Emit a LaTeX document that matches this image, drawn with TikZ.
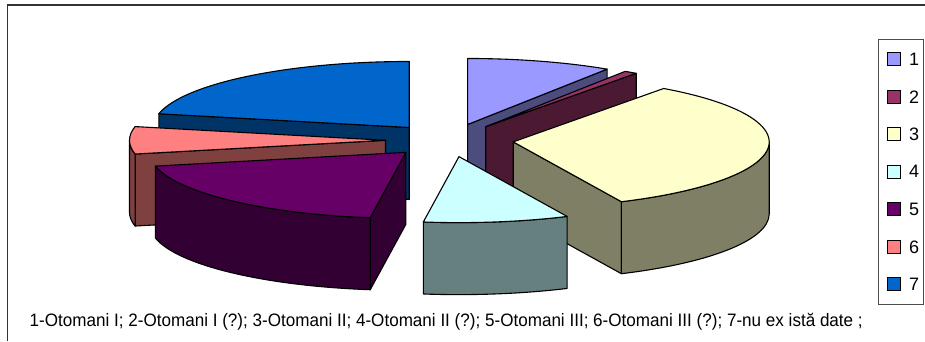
\documentclass[tikz,border=0pt]{standalone}
\usepackage{fontspec}
\setmainfont{Liberation Sans}
\usepackage{graphicx}
\usepackage{tikz}
\usetikzlibrary{calc,positioning}
\definecolor{pie1}{HTML}{9999FF}
\definecolor{pie2}{HTML}{993366}
\definecolor{pie3}{HTML}{FFFFCC}
\definecolor{pie4}{HTML}{CCFFFF}
\definecolor{pie5}{HTML}{660066}
\definecolor{pie6}{HTML}{FF8080}
\definecolor{pie7}{HTML}{0066CC}
\definecolor{side1}{HTML}{4C4C7F}
\definecolor{side2}{HTML}{4C1933}
\definecolor{side3}{HTML}{7F7F66}
\definecolor{side4}{HTML}{667F7F}
\definecolor{side5}{HTML}{330033}
\definecolor{side6}{HTML}{7F4040}
\definecolor{side7}{HTML}{003366}

\begin{document}
\begin{tikzpicture}[x=1pt, y=-1pt,
  piece/.style={draw=black, line width=1.1pt, line join=round},
  keybox/.style={draw=black, line width=1pt, minimum size=13pt, inner sep=0pt},
  keytext/.style={font=\fontsize{18}{20}\selectfont, inner sep=0pt}]
\useasboundingbox (0,0) rectangle (925,341);
\newcommand{\pcx}{449.5}
\newcommand{\pcy}{140.3}
\newcommand{\rx}{256}
\newcommand{\ry}{66}
\newcommand{\hgt}{72}
\newcommand{\expl}{0.25}
%% chart area
\draw[black!80, line width=1.3pt] (925,5) -- (7.5,5) -- (7.5,341);
%% slices, from the back to the front
\foreach \n/\s/\t in {7/-192/-270, 1/90/57, 2/57/54, 6/-168/-192, 3/54/-65, 5/-98/-168, 4/-65/-98} {
  \pgfmathsetmacro{\m}{(\s+\t)/2}
  \pgfmathsetmacro{\lo}{max(\t,-180)}
  \pgfmathsetmacro{\hi}{min(\s,0)}
  \pgfmathsetmacro{\angs}{-1*\s}
  \pgfmathsetmacro{\angt}{-1*\t}
  \pgfmathsetmacro{\anglo}{-1*\lo}
  \pgfmathsetmacro{\anghi}{-1*\hi}
  \pgfmathtruncatemacro{\vt}{cos(\t)>0.01}
  \pgfmathtruncatemacro{\vs}{cos(\s)<-0.01}
  \pgfmathtruncatemacro{\vo}{\hi>\lo}
  \coordinate (a) at ({\pcx+\expl*\rx*cos(\m)},{\pcy-\expl*\ry*sin(\m)});
  \coordinate (rs) at ($(a)+({\rx*cos(\s)},{-\ry*sin(\s)})$);
  \coordinate (rt) at ($(a)+({\rx*cos(\t)},{-\ry*sin(\t)})$);
  \ifnum\vt=1
    \filldraw[piece, fill=side\n] (a) -- (rt) -- ++(0,\hgt) -- ($(a)+(0,\hgt)$) -- cycle;
  \fi
  \ifnum\vs=1
    \filldraw[piece, fill=side\n] (a) -- (rs) -- ++(0,\hgt) -- ($(a)+(0,\hgt)$) -- cycle;
  \fi
  \ifnum\vo=1
    \filldraw[piece, fill=side\n] ($(a)+({\rx*cos(\hi)},{-\ry*sin(\hi)})$)
      arc[start angle=\anghi, end angle=\anglo, x radius=\rx, y radius=\ry] -- ++(0,\hgt)
      arc[start angle=\anglo, end angle=\anghi, x radius=\rx, y radius=\ry] -- cycle;
  \fi
  \filldraw[piece, fill=pie\n] (a) -- (rs)
    arc[start angle=\angs, end angle=\angt, x radius=\rx, y radius=\ry] -- cycle;
}
%% legend
\draw[black!70, line width=0.8pt] (878,39) rectangle (923,304);
\foreach \n in {1,...,7} {
  \node[keybox, fill=pie\n] (k\n) at (894,{59.3+37.5*(\n-1)}) {};
  \node[keytext, right=8pt of k\n] (l\n) {\n};
}
\node[anchor=base west, inner sep=0pt, font=\fontsize{18}{20}\selectfont] (caption) at (29.5,326)
  {\resizebox{833pt}{\height}{1-Otomani I; 2-Otomani I (?); 3-Otomani II; 4-Otomani II (?); 5-Otomani III; 6-Otomani III (?); 7-nu ex istă date ;}};
\end{tikzpicture}
\end{document}
